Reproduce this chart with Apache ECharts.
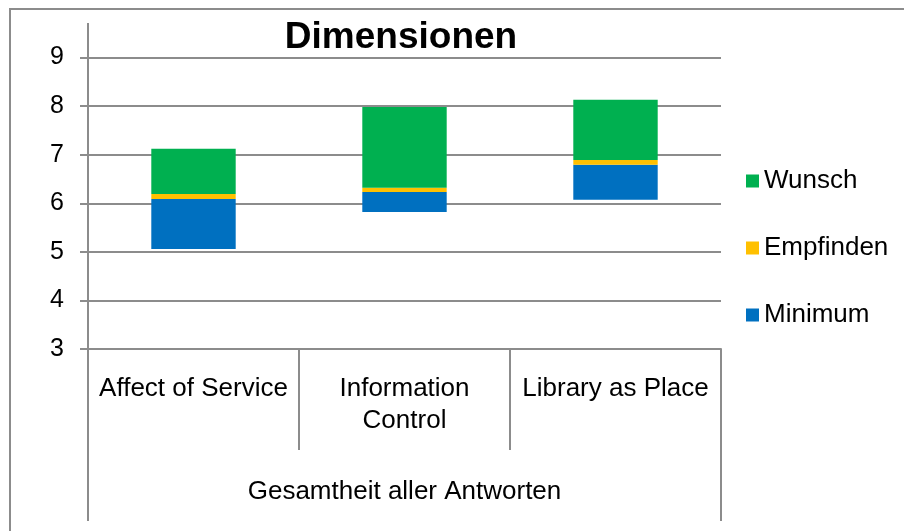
<!DOCTYPE html>
<html>
<head>
<meta charset="utf-8">
<script src="https://cdn.jsdelivr.net/npm/echarts@6/dist/echarts.min.js"></script>
<style>
  html, body { margin: 0; padding: 0; background: #fff; }
  #chart { width: 904px; height: 531px; }
</style>
</head>
<body>
<div id="chart"></div>
<script>
// Kategorien und Werte
const categories = ['Affect of Service', 'Information\nControl', 'Library as Place']
const groupLabel = ['Gesamtheit aller Antworten']
// unsichtbarer Sockel = Unterkante des blauen Balkens
const baseValues = [5.06, 5.82, 6.07]
const minimumValues = [1.03, 0.41, 0.72]
const empfindenValues = [0.10, 0.09, 0.10]
const wunschValues = [0.93, 1.66, 1.24]
const yTicks = [3, 9, 1] // min, max, interval

const font = 'Liberation Sans, Arial, sans-serif'
const gray = '#8c8c8c'

const chart = echarts.init(document.getElementById('chart'), null, { renderer: 'canvas' })

chart.setOption({
  animation: false,
  title: {
    text: 'Dimensionen',
    left: 401,
    textAlign: 'center',
    top: 19,
    padding: 0,
    textStyle: { fontFamily: font, fontSize: 37, fontWeight: 'bold', color: '#000' }
  },
  legend: {
    orient: 'vertical',
    left: 746,
    top: 168,
    padding: 0,
    itemWidth: 13,
    itemHeight: 13,
    itemGap: 41,
    icon: 'rect',
    data: ['Wunsch', 'Empfinden', 'Minimum'],
    textStyle: { fontFamily: font, fontSize: 26, color: '#000' }
  },
  grid: { left: 88, right: 183, top: 57.5, bottom: 182, containLabel: false },
  xAxis: [{
    type: 'category',
    data: categories,
    position: 'bottom',
    axisLine: { show: true, lineStyle: { color: gray, width: 2 } },
    axisTick: { show: true, length: 101, interval: 0, lineStyle: { color: gray, width: 2 } },
    axisLabel: {
      interval: 0,
      margin: 24,
      fontFamily: font,
      fontSize: 26,
      lineHeight: 32,
      color: '#000',
      verticalAlign: 'top'
    }
  }, {
    type: 'category',
    data: groupLabel,
    position: 'bottom',
    axisLine: { show: false },
    axisTick: { show: true, length: 172, lineStyle: { color: gray, width: 2 } },
    axisLabel: {
      margin: 127,
      fontFamily: font,
      fontSize: 26,
      lineHeight: 32,
      color: '#000',
      verticalAlign: 'top'
    }
  }],
  yAxis: {
    type: 'value',
    min: yTicks[0],
    max: yTicks[1],
    interval: yTicks[2],
    axisLine: { show: true, lineStyle: { color: gray, width: 2 } },
    axisTick: { show: true, length: 8, lineStyle: { color: gray, width: 2 } },
    splitLine: { show: true, lineStyle: { color: gray, width: 2 } },
    axisLabel: { margin: 24, fontFamily: font, fontSize: 25, color: '#000' }
  },
  graphic: [
    // Rahmen um das Diagramm
    { type: 'rect', shape: { x: 10, y: 9, width: 920, height: 560 }, style: { fill: 'none', stroke: gray, lineWidth: 2 }, silent: true },
    // Verlängerung der y-Achse über 9 hinaus
    { type: 'line', shape: { x1: 88, y1: 23, x2: 88, y2: 58 }, style: { stroke: gray, lineWidth: 2 }, silent: true }
  ],
  series: [{
    name: 'Basis',
    type: 'bar',
    stack: 'total',
    barWidth: '40%',
    itemStyle: { color: 'transparent' },
    emphasis: { disabled: true },
    data: baseValues
  }, {
    name: 'Minimum',
    type: 'bar',
    stack: 'total',
    itemStyle: { color: '#0070C0' },
    emphasis: { disabled: true },
    data: minimumValues
  }, {
    name: 'Empfinden',
    type: 'bar',
    stack: 'total',
    itemStyle: { color: '#FFC000' },
    emphasis: { disabled: true },
    data: empfindenValues
  }, {
    name: 'Wunsch',
    type: 'bar',
    stack: 'total',
    itemStyle: { color: '#00B050' },
    emphasis: { disabled: true },
    data: wunschValues
  }]
})
</script>
</body>
</html>
